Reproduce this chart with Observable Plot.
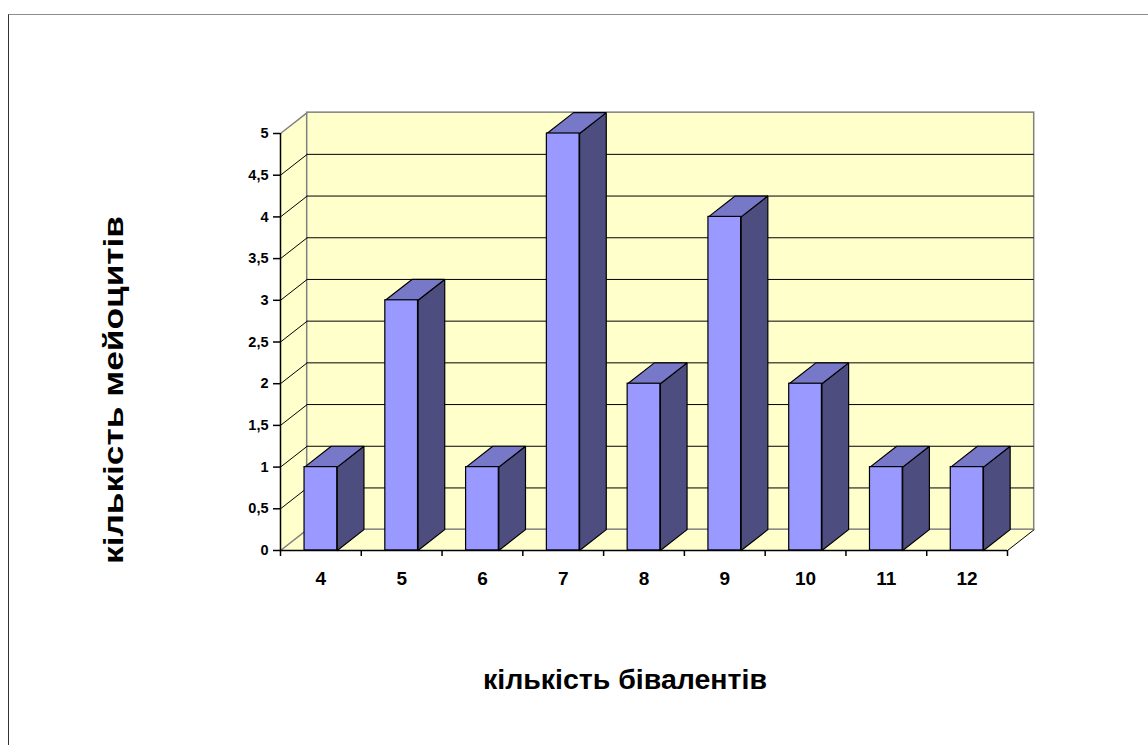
<!DOCTYPE html>
<html><head><meta charset="utf-8">
<script src="https://cdn.jsdelivr.net/npm/d3@7"></script>
<script src="https://cdn.jsdelivr.net/npm/@observablehq/plot@0.6"></script>
<style>
html,body{margin:0;padding:0;background:#fff;overflow:hidden;}
#frame{position:absolute;left:8px;top:14px;width:1300px;height:900px;border-top:1px solid #8c8c8c;border-left:1px solid #333;box-sizing:border-box;}
#chart{position:absolute;left:0;top:0;}
</style></head><body>
<div id="frame"></div>
<div id="chart"></div>
<script>
// ---- data ----
const categories = ["4","5","6","7","8","9","10","11","12"];
const counts = [1,3,1,5,2,4,2,1,1];
const yTicks = [0,0.5,1,1.5,2,2.5,3,3.5,4,4.5,5];
const yTickLabels = ["0","0,5","1","1,5","2","2,5","3","3,5","4","4,5","5"];
const xTitle = "кількість бівалентів";
const yTitle = "кількість мейоцитів";

// ---- 3D geometry (in scale units) ----
const N = categories.length;
const YMAX = 5;
const DX = 0.3305;   // depth offset along x (category units)
const DY = 0.25;     // depth offset along y (value units)
const HW = 0.2024;   // half bar width (category units)

const WALL = "#FFFFCC", FRONT = "#9999FF", TOP = "#7878C8", SIDE = "#4D4D80", EDGE = "#808080";

const bars = categories.map((c, i) => ({cat: c, i, v: counts[i], cx: i + 0.5}));
const yLabelRows = yTicks.map((v, i) => ({v, label: yTickLabels[i]}));

function poly(id, pts) { return pts.concat([pts[0]]).map(([x, y]) => ({id, x, y})); }

const sideWall = poly("side", [[0,0],[0,YMAX],[DX,YMAX+DY],[DX,DY]]);
const floor = poly("floor", [[0,0],[N,0],[N+DX,DY],[DX,DY]]);
const barSides = bars.flatMap(b => poly("s"+b.i, [[b.cx+HW,0],[b.cx+HW,b.v],[b.cx+HW+DX,b.v+DY],[b.cx+HW+DX,DY]]));
const barTops = bars.flatMap(b => poly("t"+b.i, [[b.cx-HW,b.v],[b.cx+HW,b.v],[b.cx+HW+DX,b.v+DY],[b.cx-HW+DX,b.v+DY]]));

const innerGrid = yTicks.filter(v => v > 0 && v < YMAX);
const edgeGrid = [0, YMAX];
const font = "'Liberation Sans', Arial, sans-serif";

const chart = Plot.plot({
  width: 1148, height: 745,
  marginLeft: 280, marginRight: 141, marginTop: 133, marginBottom: 195,
  x: {type: "linear", domain: [0, N]},
  y: {type: "linear", domain: [0, YMAX]},
  style: {fontFamily: font, background: "transparent", color: "#000", overflow: "visible"},
  marks: [
    Plot.line(sideWall, {x: "x", y: "y", z: "id", fill: WALL, stroke: "none"}),
    Plot.line(floor, {x: "x", y: "y", z: "id", fill: WALL, stroke: "none"}),
    Plot.rect([{}], {x1: DX, x2: N + DX, y1: DY, y2: YMAX + DY, fill: WALL, stroke: EDGE, strokeWidth: 1.5}),
    Plot.ruleY(innerGrid, {y: d => d + DY, x1: DX, x2: N + DX, stroke: "#000", strokeWidth: 1}),
    Plot.link(innerGrid, {x1: 0, y1: d => d, x2: DX, y2: d => d + DY, stroke: "#000", strokeWidth: 1}),
    Plot.link(edgeGrid, {x1: 0, y1: d => d, x2: DX, y2: d => d + DY, stroke: EDGE, strokeWidth: 1.5}),
    Plot.link([N], {x1: d => d, y1: 0, x2: d => d + DX, y2: DY, stroke: "#000", strokeWidth: 1}),
    Plot.line(barSides, {x: "x", y: "y", z: "id", fill: SIDE, stroke: "#000", strokeWidth: 1.2, strokeLinejoin: "miter"}),
    Plot.line(barTops, {x: "x", y: "y", z: "id", fill: TOP, stroke: "#000", strokeWidth: 1.2, strokeLinejoin: "miter"}),
    Plot.rect(bars, {x1: d => d.cx - HW, x2: d => d.cx + HW, y1: 0, y2: "v", fill: FRONT, stroke: "#000", strokeWidth: 1.2}),
    Plot.ruleX([0], {y1: 0, y2: YMAX, stroke: "#000", strokeWidth: 1.5}),
    Plot.ruleY([0], {x1: 0, x2: N, stroke: "#000", strokeWidth: 1.5}),
    Plot.axisY({ticks: yTicks, tickFormat: () => "", tickSize: 7, label: null, strokeWidth: 1.5}),
    Plot.axisX({ticks: d3.range(0, N + 1), tickFormat: () => "", tickSize: 6, label: null, strokeWidth: 1.5}),
    Plot.text(yLabelRows, {x: 0, y: "v", dx: -12, text: "label", textAnchor: "end", fontSize: 14.5, fontWeight: "bold"}),
    Plot.text(bars, {x: "cx", y: 0, dy: 28, text: "cat", textAnchor: "middle", fontSize: 19, fontWeight: "bold"}),
    Plot.text([xTitle], {frameAnchor: "bottom", dx: -19, dy: 138, text: d => d, fontSize: 28.5, fontWeight: "bold", textAnchor: "middle"}),
    Plot.text([yTitle], {frameAnchor: "left", dx: -166, dy: 48, text: d => d, fontSize: 28, fontWeight: "bold", rotate: -90, textAnchor: "middle", className: "ytitle"})
  ]
});
// the reference's vertical title is drawn horizontally stretched to ~350px
chart.querySelectorAll(".ytitle text").forEach(t => {
  t.setAttribute("textLength", 348);
  t.setAttribute("lengthAdjust", "spacingAndGlyphs");
});
document.getElementById("chart").appendChild(chart);
</script>
</body></html>
